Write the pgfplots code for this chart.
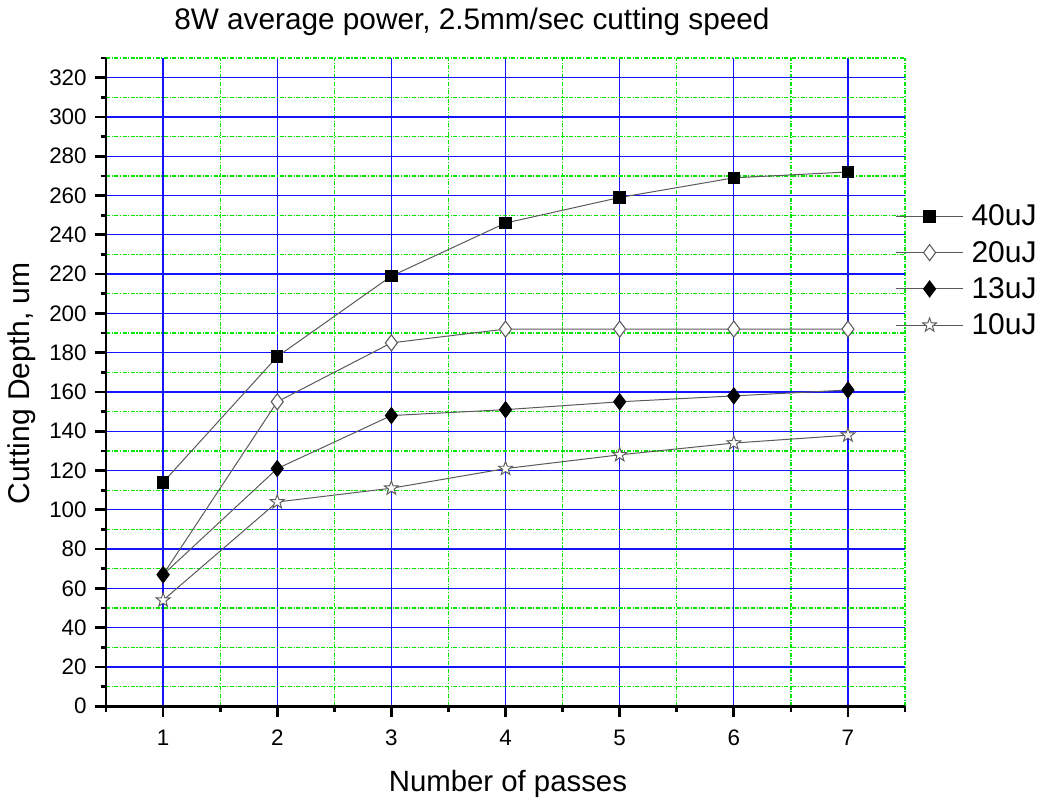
\documentclass[border=0pt]{standalone}
\usepackage{fontspec}
\setmainfont{Liberation Sans}
\usepackage{pgfplots}
\pgfplotsset{compat=1.18}
\definecolor{gridblue}{RGB}{20,20,255}
\definecolor{gridgreen}{RGB}{0,230,0}
\definecolor{ln}{RGB}{90,90,90}
\pgfdeclareplotmark{ostar}{%
  \pgfpathmoveto{\pgfpointpolar{90}{\pgfplotmarksize}}%
  \pgfpathlineto{\pgfpointpolar{126}{0.4*\pgfplotmarksize}}%
  \pgfpathlineto{\pgfpointpolar{162}{\pgfplotmarksize}}%
  \pgfpathlineto{\pgfpointpolar{198}{0.4*\pgfplotmarksize}}%
  \pgfpathlineto{\pgfpointpolar{234}{\pgfplotmarksize}}%
  \pgfpathlineto{\pgfpointpolar{270}{0.4*\pgfplotmarksize}}%
  \pgfpathlineto{\pgfpointpolar{306}{\pgfplotmarksize}}%
  \pgfpathlineto{\pgfpointpolar{342}{0.4*\pgfplotmarksize}}%
  \pgfpathlineto{\pgfpointpolar{18}{\pgfplotmarksize}}%
  \pgfpathlineto{\pgfpointpolar{54}{0.4*\pgfplotmarksize}}%
  \pgfpathclose
  \pgfusepathqfillstroke}
\newcommand\tickfont{\fontsize{16.8}{19}\selectfont}
\begin{document}
\begin{tikzpicture}
\begin{axis}[
  scale only axis, width=599pt, height=486pt,
  xmin=0.5, xmax=7.5, ymin=0, ymax=330,
  axis x line*=bottom, axis y line*=left,
  axis line style={line width=2.2pt, -},
  xtick={1,2,3,4,5,6,7}, ytick={0,20,40,60,80,100,120,140,160,180,200,220,240,260,280,300,320},
  xticklabel={\pgfmathprintnumber[assume math mode=true]{\tick}},
  yticklabel={\pgfmathprintnumber[assume math mode=true]{\tick}},
  every tick label/.append style={font=\tickfont},
  minor xtick={0.5,1.5,2.5,3.5,4.5,5.5,6.5,7.5}, minor ytick={10,30,50,70,90,110,130,150,170,190,210,230,250,270,290,310,330},
  tick align=outside,
  major tick length=8pt, minor tick length=4pt,
  grid=both,
  major grid style={draw=gridblue, line width=1pt, solid},
  minor grid style={draw=gridgreen, line width=1pt, dash pattern=on 3pt off 1.2pt on 0.8pt off 1.2pt},
  every tick/.style={black, line width=2pt},
  yticklabel style={xshift=-3pt},
  xticklabel style={yshift=-6pt},
  clip=false,
  legend style={draw=none, fill=none, at={(rel axis cs:0.988,0.778)}, anchor=north west,
    font=\fontsize{22.5}{24}\selectfont, row sep=6pt, inner sep=0pt,
    /tikz/every odd column/.append style={column sep=4pt}},
  legend cell align=left,
  legend image code/.code={\draw[mark repeat=2, mark phase=2, #1] plot coordinates {(0cm,0cm) (0.88cm,0cm) (1.76cm,0cm)};},
]
\addplot[ln, line width=0.75pt, mark=square*, mark size=4.3pt, mark options={solid, fill=black, draw=black}]
 coordinates {(1,114) (2,178) (3,219) (4,246) (5,259) (6,269) (7,272)};
\addlegendentry{40uJ}
\addplot[ln, line width=0.75pt, mark=diamond*, mark size=6pt, mark options={solid, fill=white, draw=ln, line width=0.8pt}]
 coordinates {(1,67) (2,155) (3,185) (4,192) (5,192) (6,192) (7,192)};
\addlegendentry{20uJ}
\addplot[ln, line width=0.75pt, mark=diamond*, mark size=6pt, mark options={solid, fill=black, draw=black}]
 coordinates {(1,67) (2,121) (3,148) (4,151) (5,155) (6,158) (7,161)};
\addlegendentry{13uJ}
\addplot[ln, line width=0.75pt, mark=ostar, mark size=5.5pt, mark options={solid, fill=white, draw=ln, line width=0.7pt}]
 coordinates {(1,54) (2,104) (3,111) (4,121) (5,128) (6,134) (7,138)};
\addlegendentry{10uJ}
\node[font=\fontsize{22.3}{24}\selectfont] at (rel axis cs:0.458,1.056) {8W average power, 2.5mm/sec cutting speed};
\node[font=\fontsize{22.5}{24}\selectfont, rotate=90] at (rel axis cs:-0.105,0.498) {Cutting Depth, um};
\node[font=\fontsize{22}{24}\selectfont] at (rel axis cs:0.503,-0.119) {Number of passes};
\coordinate (bl) at (rel axis cs:-0.1327,-0.1466);
\coordinate (tr) at (rel axis cs:1.1677,1.0895);
\end{axis}
\pgfresetboundingbox
\path (bl) rectangle (tr);
\end{tikzpicture}
\end{document}
